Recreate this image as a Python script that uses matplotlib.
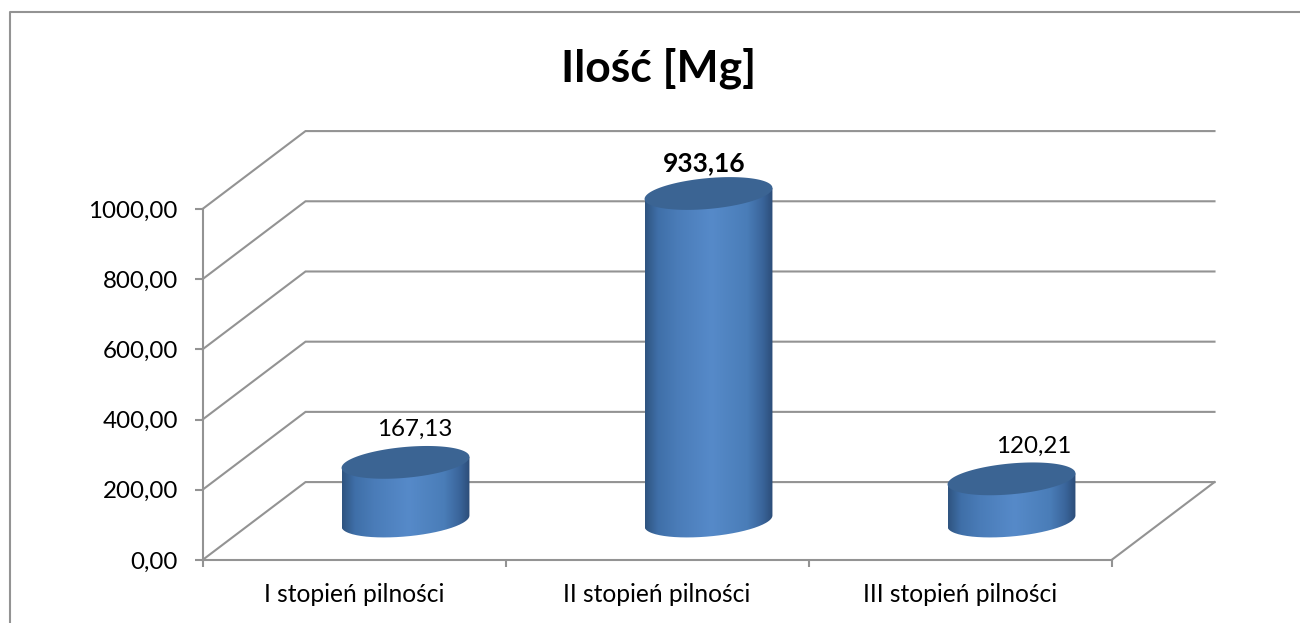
import numpy as np
import matplotlib
matplotlib.use('Agg')
import matplotlib.pyplot as plt
from matplotlib.colors import LinearSegmentedColormap
from matplotlib.lines import Line2D
from matplotlib.patches import PathPatch
from matplotlib.path import Path
from matplotlib.ticker import FuncFormatter

plt.rcParams['font.family'] = ['Lato', 'DejaVu Sans']

categories = ['I stopień pilności', 'II stopień pilności', 'III stopień pilności']
values = [167.13, 933.16, 120.21]
y_ticks = [0, 200, 400, 600, 800, 1000]
title = 'Ilość [Mg]'

W, H = 1300, 623
grey = '#939393'
lw = 1.5
# glebokosc "3D" w jednostkach osi
dx = 103 / 303
dy = 222.0
# elipsa cylindra
a = 0.211
b = 44.0
shear = 15.7
# przesuniecie etykiet (piksele)
label_off = [(9, 33), (-4, 30), (22, 33)]

fig = plt.figure(figsize=(W / 100, H / 100), dpi=100)
ax = fig.add_axes([202.5 / W, (H - 560) / H, 909 / W, 351 / H])
ax.patch.set_visible(False)
ax.set_xlim(-0.5, 2.5)
ax.set_ylim(0, 1000)
ax.set_autoscale_on(False)

for s in ['top', 'right']:
    ax.spines[s].set_visible(False)
for s in ['left', 'bottom']:
    ax.spines[s].set_color(grey)
    ax.spines[s].set_linewidth(lw)

ax.set_yticks(y_ticks)
ax.yaxis.set_major_formatter(FuncFormatter(lambda v, p: f'{v:.2f}'.replace('.', ',')))
ax.set_xticks([-0.5, 0.5, 1.5, 2.5])
ax.set_xticklabels([])
ax.tick_params(axis='x', length=5, width=lw, color=grey)
ax.tick_params(axis='y', length=5.8, width=lw, color=grey, labelcolor='black', labelsize=17.4, pad=12)

for i, c in enumerate(categories):
    ax.annotate(c, (i, 0), xytext=(0, -24.5), textcoords='offset points', ha='center', va='center',
                fontsize=17.7, annotation_clip=False)

# sciany wykresu
for t in y_ticks:
    ax.plot([-0.5, -0.5 + dx, 2.5 + dx], [t, t + dy, t + dy], color=grey, lw=lw,
            clip_on=False, zorder=1, solid_joinstyle='miter')
ax.plot([2.5, 2.5 + dx], [0, dy], color=grey, lw=lw, clip_on=False, zorder=1)

body_cmap = LinearSegmentedColormap.from_list('body', [
    (0.0, '#2f5480'), (0.1, '#3f6fa8'), (0.25, '#4a7cb8'), (0.52, '#568ac9'),
    (0.8, '#4a7db8'), (0.92, '#3a659b'), (1.0, '#2c4d78')])
grad = np.linspace(0, 1, 256).reshape(1, -1)

t = np.linspace(0, 2 * np.pi, 181)
for i, v in enumerate(values):
    cx = i + dx / 2
    y0 = dy / 2
    y1 = v + dy / 2

    # przod cylindra: dolna polowa elipsy + gorna krawedz
    tt = np.linspace(np.pi, 2 * np.pi, 91)
    xs = cx + a * np.cos(tt)
    bottom = y0 + shear * np.cos(tt) + b * np.sin(tt)
    top = y1 + shear * np.cos(tt)
    verts = np.r_[np.c_[xs, bottom], np.c_[xs[::-1], top[::-1]], [[xs[0], bottom[0]]]]
    clip = PathPatch(Path(verts), transform=ax.transData, fc='none', ec='none')
    ax.add_patch(clip)
    clip.set_clip_on(False)
    im = ax.imshow(grad, cmap=body_cmap, aspect='auto', zorder=3, interpolation='bilinear',
                   extent=[cx - a, cx + a, y0 - 80, y1 + 80])
    im.set_clip_box(fig.bbox)
    im.set_clip_path(clip)

    xe = cx + a * np.cos(t)
    ye = y1 + shear * np.cos(t) + b * np.sin(t)
    ax.fill(xe, ye, color='#3b6493', lw=0, zorder=4, clip_on=False)

    label = f'{v:.2f}'.replace('.', ',')
    ox, oy = label_off[i]
    ax.annotate(label, (cx, y1), xytext=(ox * 0.72, oy * 0.72), textcoords='offset points',
                ha='center', va='center', fontsize=19 if i == 1 else 17.4, annotation_clip=False,
                fontweight='bold' if i == 1 else 'normal', zorder=5)

fig.text(659 / W, 1 - 68 / H, title, fontsize=32, fontweight='bold', ha='center', va='center')

# ramka wykresu (z prawej i od dolu ucieta)
fx = [9.5 / W, 9.5 / W, 1]
fy = [0, 1 - 11.5 / H, 1 - 11.5 / H]
fig.add_artist(Line2D(fx, fy, transform=fig.transFigure, color=grey, lw=lw))

fig.savefig('out.png', dpi=100)
